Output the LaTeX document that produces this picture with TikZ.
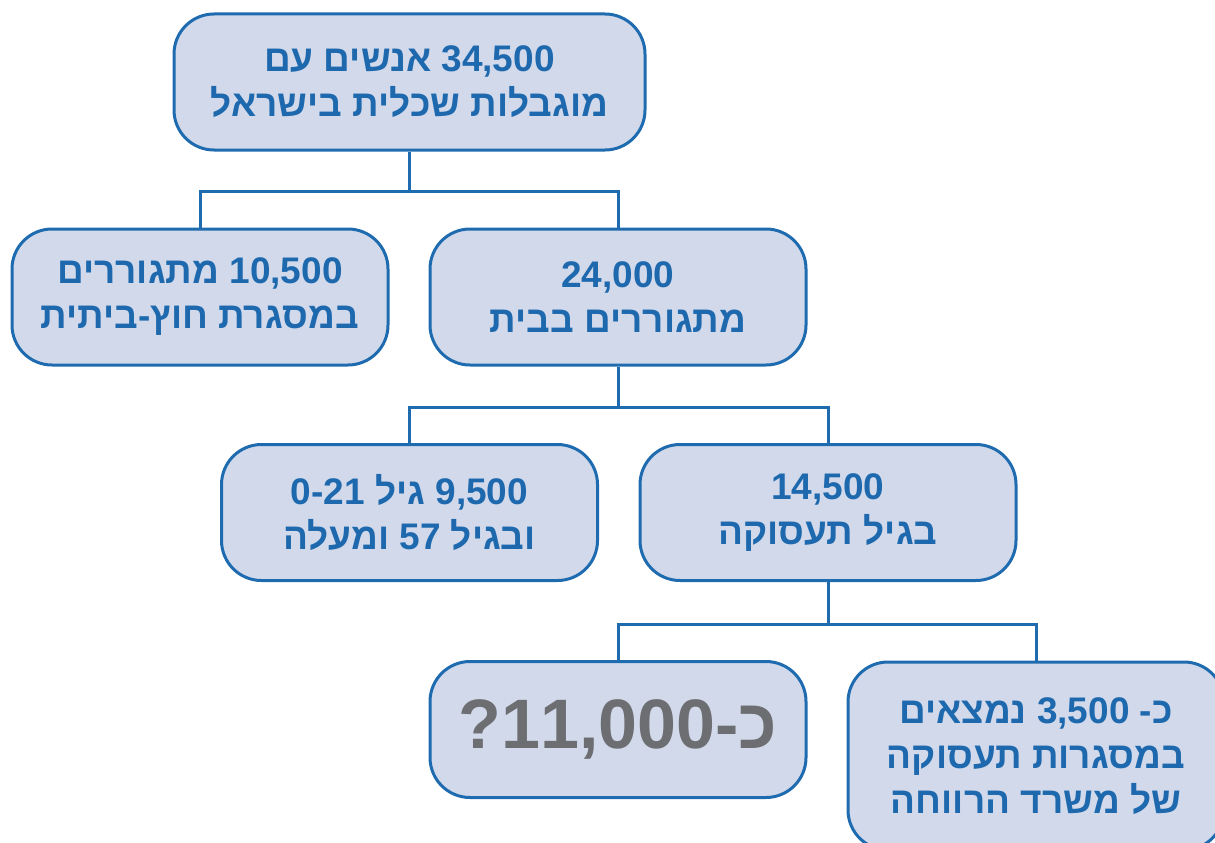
\documentclass[tikz,border=0pt]{standalone}
\usepackage{fontspec}
\newfontfamily\heb[Script=Hebrew]{Liberation Sans}
\TeXXeTstate=1
\definecolor{boxfill}{HTML}{D1D9EB}
\definecolor{boxline}{HTML}{1F6BB0}
\definecolor{txtblue}{HTML}{1E69AE}
\definecolor{txtgray}{HTML}{6D6E71}
\begin{document}
\begin{tikzpicture}[x=1pt,y=-1pt,
  box/.style={draw=boxline, fill=boxfill, line width=3pt, rounded corners=40pt,
    minimum width=376pt, minimum height=136pt, inner sep=0pt, align=center,
    text=txtblue, font=\heb\bfseries\fontsize{37}{45}\selectfont},
  conn/.style={draw=boxline, line width=3pt}]
\useasboundingbox (0,0) rectangle (1215,843);
\clip (0,0) rectangle (1215,843);

\node[box, minimum width=471pt] (top) at (409.5,82)
  {\beginR\beginL 34,500\endL{} אנשים עם\endR\\\beginR מוגבלות שכלית בישראל\endR};
\node[box] (l1) at (200,297)
  {\beginR\beginL 10,500\endL{} מתגוררים\endR\\\beginR במסגרת חוץ-ביתית\endR};
\node[box] (r1) at (618,297)
  {\beginL 24,000\endL\\\beginR מתגוררים בבית\endR};
\node[box] (l2) at (409.5,512.5)
  {\beginR\beginL 9,500\endL{} גיל \beginL 0-21\endL\endR\\\beginR ובגיל \beginL 57\endL{} ומעלה\endR};
\node[box] (r2) at (828,512.5)
  {\beginL 14,500\endL\\\beginR בגיל תעסוקה\endR};
\node[box, text=txtgray, font=\heb\bfseries\fontsize{70}{80}\selectfont] (l3) at (618,729.5)
  {\beginR כ-\beginL 11,000\endL?\endR};
\node[box, minimum height=188pt] (r3) at (1036,756)
  {\beginR כ- \beginL 3,500\endL{} נמצאים\endR\\\beginR במסגרות תעסוקה\endR\\\beginR של משרד הרווחה\endR};

\coordinate (b1) at (409.5,191);
\coordinate (b2) at (618,407);
\coordinate (b3) at (828,624);
\draw[conn] (top.south) -- (b1);
\draw[conn] (l1.north) |- (b1) -| (r1.north);
\draw[conn] (r1.south) -- (b2);
\draw[conn] (l2.north) |- (b2) -| (r2.north);
\draw[conn] (r2.south) -- (b3);
\draw[conn] (l3.north) |- (b3) -| (r3.north);
\end{tikzpicture}
\end{document}
